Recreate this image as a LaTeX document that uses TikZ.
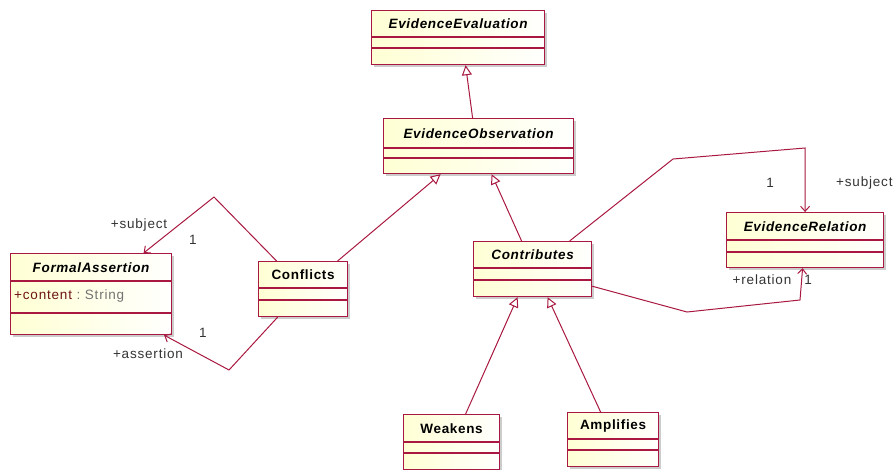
\documentclass[tikz,border=0pt]{standalone}
\usepackage{fontspec}
\setmainfont{Liberation Sans}
\newfontfamily\umlfont[LetterSpace=5]{Liberation Sans}
\newfontfamily\lblfont[LetterSpace=6]{Liberation Sans}
\usetikzlibrary{arrows.meta,calc}
\definecolor{umlred}{RGB}{168,24,64}
\definecolor{umlfill}{RGB}{255,255,212}
\definecolor{lblgray}{RGB}{51,51,51}
\definecolor{attrred}{RGB}{110,20,20}
\tikzset{
 clsbox/.style={draw=umlred, line width=1.2pt, left color=umlfill, right color=white!97!umlfill, inner sep=0pt},
 shadowbox/.style={fill=black!20},
 sepline/.style={draw=umlred, line width=1.2pt},
 absname/.style={font=\umlfont\fontsize{13.5}{15}\selectfont\bfseries\itshape, inner sep=0pt},
 conname/.style={font=\umlfont\fontsize{13.5}{15}\selectfont\bfseries, inner sep=0pt},
 gen/.style={draw=umlred, line width=1pt, -{Triangle[open, length=10pt, width=10pt]}},
 assoc/.style={draw=umlred, line width=1pt, -{Straight Barb[length=5pt, width=9pt]}},
 lbl/.style={font=\lblfont\fontsize{13.5}{15}\selectfont, text=lblgray, inner sep=0pt},
}
% name, x, y, width, height, line1, line2, style, text
\newcommand\umlclass[9]{%
 \fill[shadowbox] (#2+3,#3+3) rectangle (#2+#4+3,#3+#5+3);
 \node[clsbox, anchor=north west, minimum width=#4pt, minimum height=#5pt] (#1) at (#2,#3) {};
 \draw[sepline] ($(#1.north west)+(0,#6)$) -- ($(#1.north east)+(0,#6)$);
 \draw[sepline] ($(#1.north west)+(0,#7)$) -- ($(#1.north east)+(0,#7)$);
 \node[#8] (#1-name) at ($(#1.north)+(0,#6/2+0.5)$) {#9};
}
\begin{document}
\begin{tikzpicture}[x=1pt,y=-1pt]
\useasboundingbox (0,0) rectangle (894,469);
\umlclass{EE}{371}{10}{173}{54}{27}{38}{absname}{EvidenceEvaluation}
\umlclass{EO}{383}{118}{190}{55}{30}{40}{absname}{EvidenceObservation}
\umlclass{FA}{10}{253}{161}{81}{28}{60}{absname}{FormalAssertion}
\umlclass{CO}{258}{261}{89}{55}{27}{39}{conname}{Conflicts}
\umlclass{CT}{473}{241}{118}{55}{27}{39}{absname}{Contributes}
\umlclass{ER}{726}{212}{157}{55}{28}{40}{absname}{EvidenceRelation}
\umlclass{WK}{403}{414}{96}{55}{28}{39}{conname}{Weakens}
\umlclass{AM}{567}{412}{91}{54}{27}{38}{conname}{Amplifies}
\node[anchor=west, inner sep=0pt, font=\lblfont\fontsize{13.5}{15}\selectfont] (FAattr) at ($(FA.north west)+(4,43.5)$)
  {\textcolor{attrred}{+content}\textcolor{black!55}{\ :\ String}};
% generalizations
\draw[gen] ([xshift=-6pt]EO.north) -- ([xshift=7.5pt]EE.south);
\draw[gen] ([xshift=34.5pt]CO.north) -- ([xshift=-38pt]EO.south);
\draw[gen] ([xshift=-11pt]CT.north) -- ([xshift=13pt]EO.south);
\draw[gen] ([xshift=14pt]WK.north) -- ([xshift=-15pt]CT.south);
\draw[gen] ([xshift=-12.5pt]AM.north) -- ([xshift=15pt]CT.south);
% associations
\coordinate (b1) at (214,197);
\coordinate (b2) at (229,370);
\coordinate (b3) at (673,159);
\coordinate (b4) at (805,148);
\coordinate (b5) at (687,312);
\coordinate (b6) at (800,300);
\draw[assoc] ([xshift=-26.5pt]CO.north) -- (b1) -- ([xshift=52.5pt]FA.north);
\draw[assoc] ([xshift=-25.5pt]CO.south) -- (b2) -- ([xshift=-8pt]FA.south east);
\draw[assoc] ([xshift=37pt]CT.north) -- (b3) -- (b4) -- (ER.north);
\draw[assoc] ([yshift=11pt]CT.south east) -- (b5) -- (b6) -- ([xshift=-2.5pt]ER.south);
% labels
\node[lbl] (l1) at (139,225) {+subject};
\node[lbl] (l2) at (193,240) {1};
\node[lbl] (l3) at (203,333) {1};
\node[lbl] (l4) at (148,354) {+assertion};
\node[lbl] (l5) at (770,183) {1};
\node[lbl, anchor=west] (l6) at (836,183) {+subject};
\node[lbl] (l7) at (762,280) {+relation};
\node[lbl] (l8) at (808,280) {1};
\end{tikzpicture}
\end{document}
